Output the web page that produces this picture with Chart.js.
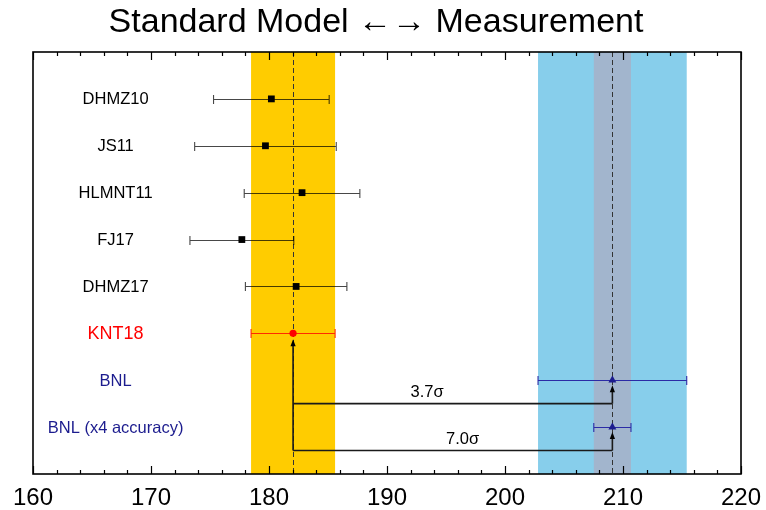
<!DOCTYPE html>
<html>
<head>
<meta charset="utf-8">
<script src="https://cdn.jsdelivr.net/npm/chart.js@4.4.1/dist/chart.umd.min.js"></script>
<style>
  body { margin: 0; background: #fff; }
  canvas { display: block; }
</style>
</head>
<body>
<canvas id="amuChart" width="766" height="510"></canvas>
<script>
// a_mu values, shown as (a_mu x 1e10 - 11659000)
const names = ['DHMZ10', 'JS11', 'HLMNT11', 'FJ17', 'DHMZ17', 'KNT18', 'BNL', 'BNL (x4 accuracy)'];
const rows = [1, 2, 3, 4, 5, 6, 7, 8];
const centers = [180.2, 179.7, 182.8, 177.7, 182.3, 182.04, 209.1, 209.1];
const errors = [4.9, 6.0, 4.9, 4.4, 4.3, 3.56, 6.3, 1.575];

// tension between KNT18 and BNL
const sigmaLabels = ['3.7σ', '7.0σ'];
const sigmaRows = [7.5, 8.5];
const sigmaTextX = [193.4, 196.4];
const sigmaTarget = [6, 7]; // index of BNL entry each arrow points to

const xTicks = [160, 170, 180, 190, 200, 210, 220];

const SM = 5, EXP = 6, EXP4 = 7;
const FONT = '"Liberation Sans", Arial, Helvetica, sans-serif';
const NAVY = '#1c1c8e';
const TITLE = 'Standard Model ←→ Measurement';

const markerStyle = names.map((n, i) => i === SM ? 'circle' : (i >= EXP ? 'triangle' : 'rect'));
const markerColor = names.map((n, i) => i === SM ? '#ff0000' : (i >= EXP ? NAVY : '#000'));
const markerRadius = names.map((n, i) => i === SM ? 3.6 : (i >= EXP ? 4.6 : 4.8));
const textColor = names.map((n, i) => i === SM ? '#ff0000' : (i >= EXP ? NAVY : '#000'));
const barColor = names.map((n, i) => i === SM ? '#ff2a00' : (i >= EXP ? '#2b2ba6' : 'rgba(0,0,0,0.72)'));

const labelX = 167.0;

const overlay = {
    id: 'overlay',
    beforeDatasetsDraw(chart) {
        const { ctx, chartArea: a, scales: { x, y } } = chart;
        ctx.save();
        ctx.beginPath();
        ctx.rect(a.left, a.top, a.right - a.left, a.bottom - a.top);
        ctx.clip();

        // bands: SM prediction and measurement
        const band = (i, color) => {
            const l = x.getPixelForValue(centers[i] - errors[i]);
            const r = x.getPixelForValue(centers[i] + errors[i]);
            ctx.fillStyle = color;
            ctx.fillRect(l, a.top, r - l, a.bottom - a.top);
        };
        band(SM, '#ffcc00');
        band(EXP, '#87ceeb');
        band(EXP4, '#a2b5cd');

        // central values, dashed
        ctx.setLineDash([5, 3]);
        ctx.lineWidth = 1;
        ctx.strokeStyle = '#333';
        [SM, EXP].forEach(i => {
            const px = Math.round(x.getPixelForValue(centers[i])) + 0.5;
            ctx.beginPath();
            ctx.moveTo(px, a.top);
            ctx.lineTo(px, a.bottom);
            ctx.stroke();
        });
        ctx.setLineDash([]);

        // error bars
        names.forEach((n, i) => {
            const py = Math.round(y.getPixelForValue(rows[i])) + 0.5;
            const l = x.getPixelForValue(centers[i] - errors[i]);
            const r = x.getPixelForValue(centers[i] + errors[i]);
            ctx.strokeStyle = barColor[i];
            ctx.lineWidth = 1.1;
            ctx.beginPath();
            ctx.moveTo(l, py);
            ctx.lineTo(r, py);
            ctx.moveTo(l, py - 4.5);
            ctx.lineTo(l, py + 4.5);
            ctx.moveTo(r, py - 4.5);
            ctx.lineTo(r, py + 4.5);
            ctx.stroke();
        });

        // arrows
        const arrowUp = (px, fromPy, tipPy) => {
            const head = 6;
            ctx.beginPath();
            ctx.moveTo(px, fromPy);
            ctx.lineTo(px, tipPy + head);
            ctx.stroke();
            ctx.beginPath();
            ctx.moveTo(px, tipPy);
            ctx.lineTo(px - 2.6, tipPy + head + 1);
            ctx.lineTo(px + 2.6, tipPy + head + 1);
            ctx.closePath();
            ctx.fill();
        };
        ctx.strokeStyle = '#1a1a1a';
        ctx.fillStyle = '#000';
        ctx.lineWidth = 1.6;
        const smX = x.getPixelForValue(centers[SM]);
        const lowest = Math.max(...sigmaRows);
        arrowUp(smX, y.getPixelForValue(lowest), y.getPixelForValue(rows[SM]) + 6);
        sigmaRows.forEach((r, k) => {
            const t = sigmaTarget[k];
            const py = y.getPixelForValue(r);
            const ex = x.getPixelForValue(centers[t]);
            ctx.beginPath();
            ctx.moveTo(smX, py);
            ctx.lineTo(ex, py);
            ctx.stroke();
            arrowUp(ex, py, y.getPixelForValue(rows[t]) + 5);
        });
        ctx.restore();
    },
    afterDatasetsDraw(chart) {
        const { ctx, scales: { x, y } } = chart;
        ctx.save();
        ctx.textAlign = 'center';
        ctx.textBaseline = 'middle';
        names.forEach((n, i) => {
            ctx.font = (i === SM ? 18 : 16.5) + 'px ' + FONT;
            ctx.fillStyle = textColor[i];
            ctx.fillText(n, x.getPixelForValue(labelX), y.getPixelForValue(rows[i]) + 1);
        });
        ctx.font = '16.5px ' + FONT;
        ctx.fillStyle = '#000';
        sigmaLabels.forEach((s, k) => {
            ctx.fillText(s, x.getPixelForValue(sigmaTextX[k]), y.getPixelForValue(sigmaRows[k]) - 11);
        });
        ctx.restore();
    },
    afterDraw(chart) {
        const { ctx, chartArea: a, scales: { x } } = chart;
        ctx.save();
        ctx.strokeStyle = '#000';
        // inward tick marks, top and bottom
        ctx.lineWidth = 1.2;
        x.ticks.forEach(t => {
            const px = Math.round(x.getPixelForValue(t.value)) + 0.5;
            const len = t.value % 10 === 0 ? 8 : 4;
            ctx.beginPath();
            ctx.moveTo(px, a.bottom);
            ctx.lineTo(px, a.bottom - len);
            ctx.moveTo(px, a.top);
            ctx.lineTo(px, a.top + len);
            ctx.stroke();
        });
        // frame
        ctx.lineWidth = 1.6;
        ctx.strokeRect(a.left, a.top, a.right - a.left, a.bottom - a.top);

        // title
        ctx.fillStyle = '#000';
        ctx.font = '34px ' + FONT;
        ctx.textAlign = 'center';
        ctx.textBaseline = 'alphabetic';
        ctx.fillText(TITLE, 376, 32);
        ctx.restore();
    }
};

const ctx = document.getElementById('amuChart').getContext('2d');

new Chart(ctx, {
    type: 'scatter',
    data: {
        datasets: [{
            data: names.map((n, i) => ({ x: centers[i], y: rows[i] })),
            pointStyle: markerStyle,
            pointRadius: markerRadius,
            backgroundColor: markerColor,
            borderColor: markerColor,
            borderWidth: 0
        }]
    },
    options: {
        responsive: false,
        animation: false,
        layout: {
            padding: { left: 33, right: 25, top: 52, bottom: 0 }
        },
        plugins: {
            legend: { display: false },
            tooltip: { enabled: false },
            title: { display: false }
        },
        scales: {
            x: {
                type: 'linear',
                min: xTicks[0],
                max: xTicks[xTicks.length - 1],
                grid: { display: false, drawTicks: false },
                border: { display: false },
                afterFit(scale) {
                    scale.height = 36;
                    scale.paddingLeft = 0;
                    scale.paddingRight = 0;
                },
                ticks: {
                    stepSize: 2,
                    autoSkip: false,
                    maxRotation: 0,
                    padding: 9.6,
                    color: '#000',
                    font: { family: FONT, size: 24, lineHeight: 1.2 },
                    callback: v => xTicks.includes(v) ? String(v) : ''
                }
            },
            y: {
                type: 'linear',
                min: 0,
                max: 9,
                reverse: true,
                display: false
            }
        }
    },
    plugins: [overlay]
});
</script>
</body>
</html>
